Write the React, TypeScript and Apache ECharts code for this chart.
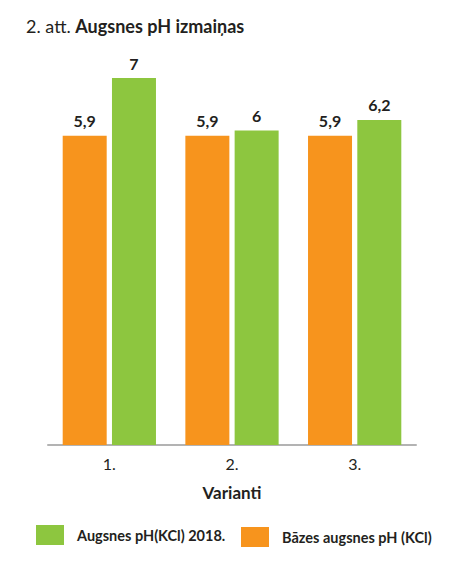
import React, { useEffect, useRef } from "react";
import * as echarts from "echarts";

const categories = ["1.", "2.", "3."];
const baseValues = [5.9, 5.9, 5.9];
const values2018 = [7, 6, 6.2];
const seriesNames = ["Bāzes augsnes pH (KCl)", "Augsnes pH(KCl) 2018."];

const FONT = "Lato, 'Noto Sans', sans-serif";
const TEXT = "#231f20";
const ORANGE = "#f7941d";
const GREEN = "#8dc63f";

export default function App() {
  const ref = useRef<HTMLDivElement>(null);
  useEffect(() => {
    document.body.style.margin = "0";
    const chart = echarts.init(ref.current!, null, { renderer: "svg" });
    const label = {
      show: true,
      position: "top" as const,
      distance: 7,
      color: TEXT,
      fontFamily: FONT,
      fontWeight: "bold" as const,
      fontSize: 16,
      formatter: (p: any) => String(p.value).replace(".", ","),
    };
    const legendText = { fontFamily: FONT, fontSize: 14.5, fontWeight: "bold" as const, color: TEXT, padding: [0, 0, 0, 8] };
    chart.setOption({
      animation: false,
      backgroundColor: "#ffffff",
      title: {
        text: "{a|2. att. }{b|Augsnes pH izmaiņas}",
        left: 21,
        top: 12,
        textStyle: {
          rich: {
            a: { fontFamily: FONT, fontSize: 18, color: TEXT, fontWeight: "normal" },
            b: { fontFamily: FONT, fontSize: 18, color: TEXT, fontWeight: "bold" },
          },
        },
      },
      legend: [
        {
          data: [seriesNames[1]],
          left: 36,
          top: 525,
          padding: 0,
          itemWidth: 28,
          itemHeight: 20,
          icon: "rect",
          textStyle: legendText,
        },
        {
          data: [seriesNames[0]],
          left: 241,
          top: 527,
          padding: 0,
          itemWidth: 28,
          itemHeight: 20,
          icon: "rect",
          textStyle: legendText,
        },
      ],
      grid: { left: 48, right: 57, top: 78, bottom: 123 },
      xAxis: {
        type: "category",
        data: categories,
        name: "Varianti",
        nameLocation: "middle",
        nameGap: 39,
        nameTextStyle: { fontFamily: FONT, fontSize: 17, fontWeight: "bold", color: TEXT },
        axisLine: { lineStyle: { color: "#b3b3b3", width: 2 } },
        axisTick: { show: false },
        axisLabel: { fontFamily: FONT, fontSize: 16, color: TEXT, margin: 10 },
      },
      yAxis: {
        type: "value",
        min: 0,
        max: 7,
        show: false,
        splitLine: { show: false },
      },
      series: [
        {
          name: seriesNames[0],
          type: "bar",
          data: baseValues,
          barWidth: 44,
          barGap: "12%",
          itemStyle: { color: ORANGE },
          label,
        },
        {
          name: seriesNames[1],
          type: "bar",
          data: values2018,
          barWidth: 44,
          itemStyle: { color: GREEN },
          label,
        },
      ],
    });
    return () => chart.dispose();
  }, []);
  return <div ref={ref} style={{ width: 473, height: 568, position: "fixed", left: 0, top: 0 }} />;
}
